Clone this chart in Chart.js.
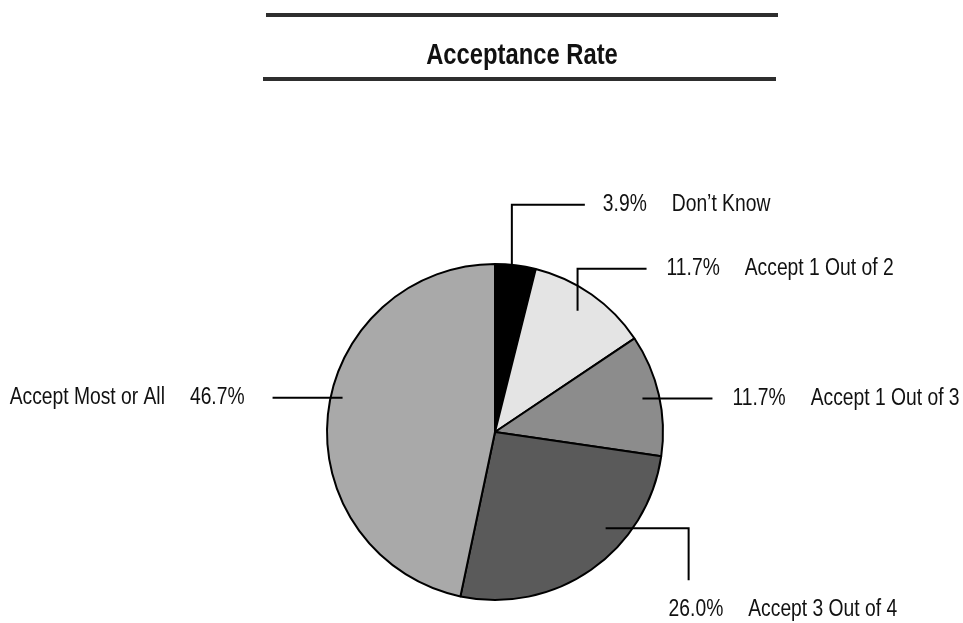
<!DOCTYPE html>
<html><head><meta charset="utf-8">
<script src="https://cdn.jsdelivr.net/npm/chart.js@4/dist/chart.umd.min.js"></script>
<style>html,body{margin:0;padding:0;background:#fff;}#wrap{width:963px;height:623px;}</style>
</head><body><div id="wrap"><canvas id="c" width="963" height="623"></canvas></div>
<script>
const titleText = "Acceptance Rate";
const categories = ["Don\u2019t Know", "Accept 1 Out of 2", "Accept 1 Out of 3", "Accept 3 Out of 4", "Accept Most or All"];
const values = [3.9, 11.7, 11.7, 26.0, 46.7];
const pctLabels = ["3.9%", "11.7%", "11.7%", "26.0%", "46.7%"];
const sliceColors = ["#000000", "#e4e4e4", "#8c8c8c", "#5a5a5a", "#a9a9a9"];

const FONT = "'Liberation Sans', Arial, sans-serif";
const NARROW = 0.82; // horizontal condensing to mimic a narrow face
// leader layout: t = position within slice, rf = radius fraction, path = segment offsets, label offset from line end
const leaderLayout = [
  {t: 0.41, rf: 1.0,   path: [[0, -60], [73, 0]], dx: 18,  dy: 0,  align: 'left'},
  {t: 0.48, rf: 0.873, path: [[0, -42], [69, 0]], dx: 20,  dy: 0,  align: 'left'},
  {t: 0.5,  rf: 0.9,   path: [[70, 0]],           dx: 20,  dy: 0,  align: 'left'},
  {t: 0.35, rf: 0.873, path: [[83, 0], [0, 52]],  dx: -20, dy: 29, align: 'left'},
  {t: 0.54, rf: 0.93,  path: [[-70, 0]],          dx: -28, dy: 0,  align: 'right'}
];

function narrowText(ctx, text, x, y, align) {
  const w = ctx.measureText(text).width * NARROW;
  let sx = x;
  if (align === 'center') sx = x - w / 2;
  else if (align === 'right') sx = x - w;
  ctx.save();
  ctx.translate(sx, y);
  ctx.scale(NARROW, 1);
  ctx.textAlign = 'left';
  ctx.fillText(text, 0, 0);
  ctx.restore();
  return w;
}

const decor = {
  id: 'decor',
  afterDraw(chart) {
    const ctx = chart.ctx;
    ctx.save();
    ctx.fillStyle = '#2e2e2e';
    ctx.fillRect(266, 13, 512, 4);
    ctx.fillRect(263, 77, 513, 4);
    ctx.fillStyle = '#111';
    ctx.font = "bold 29px " + FONT;
    ctx.textBaseline = 'alphabetic';
    narrowText(ctx, titleText, 522, 64, 'center');

    const meta = chart.getDatasetMeta(0);
    ctx.font = "23.5px " + FONT;
    ctx.textBaseline = 'middle';
    const gap = 25;
    meta.data.forEach((arc, i) => {
      const L = leaderLayout[i];
      const a = arc.startAngle + L.t * (arc.endAngle - arc.startAngle);
      const r = arc.outerRadius * L.rf;
      let x = arc.x + r * Math.cos(a), y = arc.y + r * Math.sin(a);
      ctx.strokeStyle = '#000';
      ctx.lineWidth = 2;
      ctx.beginPath();
      ctx.moveTo(x, y);
      L.path.forEach(p => { x += p[0]; y += p[1]; ctx.lineTo(x, y); });
      ctx.stroke();
      const lx = x + L.dx, ly = y + L.dy;
      ctx.fillStyle = '#111';
      const pw = ctx.measureText(pctLabels[i]).width * NARROW;
      if (L.align === 'left') {
        narrowText(ctx, pctLabels[i], lx, ly, 'left');
        narrowText(ctx, categories[i], lx + pw + gap, ly, 'left');
      } else {
        narrowText(ctx, pctLabels[i], lx, ly, 'right');
        narrowText(ctx, categories[i], lx - pw - gap, ly, 'right');
      }
    });
    ctx.restore();
  }
};

new Chart(document.getElementById('c'), {
  type: 'pie',
  data: {
    labels: categories,
    datasets: [{
      data: values,
      backgroundColor: sliceColors,
      borderColor: '#000',
      borderWidth: 2,
      radius: 168
    }]
  },
  options: {
    responsive: false,
    animation: false,
    devicePixelRatio: 1,
    layout: {padding: {top: 250, bottom: 9, left: 27, right: 0}},
    plugins: {legend: {display: false}, tooltip: {enabled: false}, title: {display: false}}
  },
  plugins: [decor]
});
</script>
</body></html>
